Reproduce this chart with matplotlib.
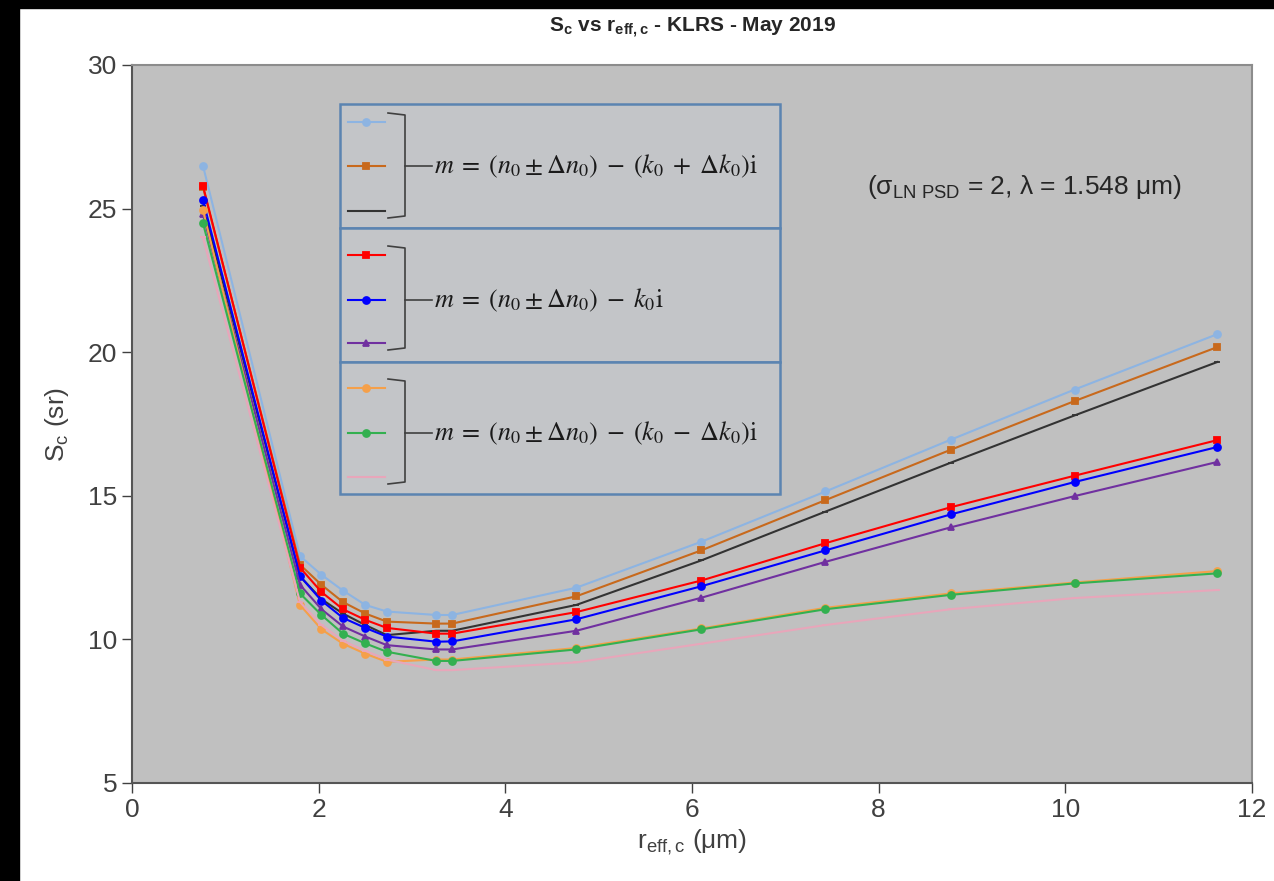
import matplotlib
matplotlib.use('Agg')
import matplotlib.pyplot as plt
from matplotlib.patches import Rectangle

plt.rcParams['font.family'] = ['Liberation Sans', 'DejaVu Sans']
plt.rcParams['mathtext.fontset'] = 'custom'
plt.rcParams['mathtext.rm'] = 'Liberation Sans'
plt.rcParams['mathtext.it'] = 'Liberation Sans:italic'
plt.rcParams['mathtext.bf'] = 'Liberation Sans:bold'

# effective radius (um)
r_eff = [0.76, 1.8, 2.03, 2.26, 2.5, 2.73, 3.26, 3.43, 4.76, 6.1, 7.43, 8.77, 10.1, 11.63]

# lidar ratio S_c (sr) for each refractive index case
s_hi_plus = [26.5, 12.9, 12.25, 11.7, 11.2, 10.97, 10.85, 10.85, 11.8, 13.4, 15.15, 16.95, 18.7, 20.63]
s_mid_plus = [25.75, 12.6, 11.9, 11.3, 10.9, 10.62, 10.55, 10.55, 11.5, 13.1, 14.85, 16.6, 18.3, 20.18]
s_lo_plus = [25.1, 12.2, 11.4, 10.9, 10.5, 10.15, 10.3, 10.3, 11.2, 12.75, 14.45, 16.15, 17.8, 19.66]
s_hi_0 = [25.8, 12.5, 11.65, 11.05, 10.68, 10.4, 10.2, 10.2, 10.95, 12.05, 13.35, 14.6, 15.7, 16.94]
s_mid_0 = [25.3, 12.2, 11.35, 10.75, 10.4, 10.1, 9.92, 9.93, 10.7, 11.85, 13.1, 14.35, 15.48, 16.7]
s_lo_0 = [24.8, 11.9, 11.05, 10.45, 10.1, 9.8, 9.65, 9.65, 10.3, 11.45, 12.7, 13.9, 14.99, 16.18]
s_hi_minus = [24.95, 11.2, 10.35, 9.85, 9.5, 9.22, 9.3, 9.3, 9.7, 10.38, 11.1, 11.6, 11.98, 12.38]
s_mid_minus = [24.5, 11.6, 10.85, 10.2, 9.86, 9.57, 9.25, 9.25, 9.65, 10.35, 11.05, 11.55, 11.95, 12.3]
s_lo_minus = [24.0, 11.3, 10.5, 9.95, 9.6, 9.3, 8.93, 8.93, 9.2, 9.85, 10.5, 11.05, 11.44, 11.72]

series = [
    (s_hi_plus, '#8DB4E2', 'o'),
    (s_mid_plus, '#C8691C', 's'),
    (s_lo_plus, '#333333', '_'),
    (s_hi_0, '#FF0000', 's'),
    (s_mid_0, '#0000FF', 'o'),
    (s_lo_0, '#7030A0', '^'),
    (s_hi_minus, '#F5A04A', 'o'),
    (s_mid_minus, '#33B050', 'o'),
    (s_lo_minus, '#E8A6BA', '_'),
]

legend_labels = [
    r'$m\;=\;(n_0 \pm \Delta n_0)\;-\;(k_0\;+\;\Delta k_0)\mathrm{i}$',
    r'$m\;=\;(n_0 \pm \Delta n_0)\;-\;k_0\mathrm{i}$',
    r'$m\;=\;(n_0 \pm \Delta n_0)\;-\;(k_0\;-\;\Delta k_0)\mathrm{i}$',
]

fig = plt.figure(figsize=(12.74, 8.81), dpi=100)
fig.patch.set_facecolor('white')
# black borders top / left of the screenshot
fig.add_artist(Rectangle((0, 1 - 8 / 881), 1, 8 / 881, transform=fig.transFigure, color='black', zorder=10))
fig.add_artist(Rectangle((0, 0), 19 / 1274, 1, transform=fig.transFigure, color='black', zorder=10))

ax = fig.add_axes([132 / 1274, 1 - 783 / 881, 1120 / 1274, 718 / 881])
ax.set_facecolor('#C0C0C0')

for vals, col, mk in series:
    ax.plot(r_eff, vals, color=col, lw=1.5, marker=mk, ms=5, mew=1.3, zorder=3)

ax.set_xlim(0, 12)
ax.set_ylim(5, 30)
ax.set_xticks(range(0, 13, 2))
ax.set_yticks(range(5, 31, 5))
ax.tick_params(labelsize=19, colors='#404040', length=7, width=1, direction='out')
for s in ['left', 'bottom']:
    ax.spines[s].set_color('#555555')
    ax.spines[s].set_linewidth(1.5)
for s in ['top', 'right']:
    ax.spines[s].set_color('#8C8C8C')
    ax.spines[s].set_linewidth(1.5)

ax.set_ylabel(r'S$_\mathregular{c}$ (sr)', fontsize=19, color='#404040', labelpad=12)
ax.set_xlabel(r'r$_\mathregular{eff,c}$ (μm)', fontsize=19, color='#404040', labelpad=4)
fig.text(692 / 1274, 1 - 28 / 881, r'S$_\mathbf{c}$ vs r$_\mathbf{eff,c}$ - KLRS - May 2019',
         fontsize=15, fontweight='bold', color='#262626', ha='center', va='center')

# legend and note drawn in pixel space on an overlay axes
ov = fig.add_axes([0, 0, 1, 1], facecolor='none')
ov.set_xlim(0, 1274)
ov.set_ylim(881, 0)
ov.axis('off')

ov.text(1025, 187, r'(σ$_\mathregular{LN\ PSD}$ = 2, λ = 1.548 μm)',
        fontsize=19, color='#262626', ha='center', va='center')

box_edges = [104, 228, 362, 494]
row_y = [[122, 166, 211], [255, 300, 343], [388, 433, 477]]
for b in range(3):
    top, bot = box_edges[b], box_edges[b + 1]
    ov.add_patch(Rectangle((340, top), 440, bot - top, facecolor='#C3C5C8',
                           edgecolor='#5B84B1', lw=1.8, zorder=2))
    for j in range(3):
        vals, col, mk = series[3 * b + j]
        ov.plot([348, 385], [row_y[b][j]] * 2, color=col, lw=1.5, zorder=3)
        ov.plot([366], [row_y[b][j]], color=col, marker=mk, ms=5, mew=1.3, zorder=3)
    y0, y1 = row_y[b][0] - 9, row_y[b][2] + 7
    ym = row_y[b][1]
    ov.plot([388, 405, 405, 388], [y0, y0 + 2, y1 - 2, y1], color='#404040', lw=1.2, zorder=3)
    ov.plot([405, 410, 432], [ym, ym, ym], color='#404040', lw=1.2, zorder=3)
    ov.text(434, ym, legend_labels[b], fontsize=18.8, math_fontfamily='stix',
            color='#1A1A1A', ha='left', va='center', zorder=4)

fig.savefig('out.png', dpi=100)
